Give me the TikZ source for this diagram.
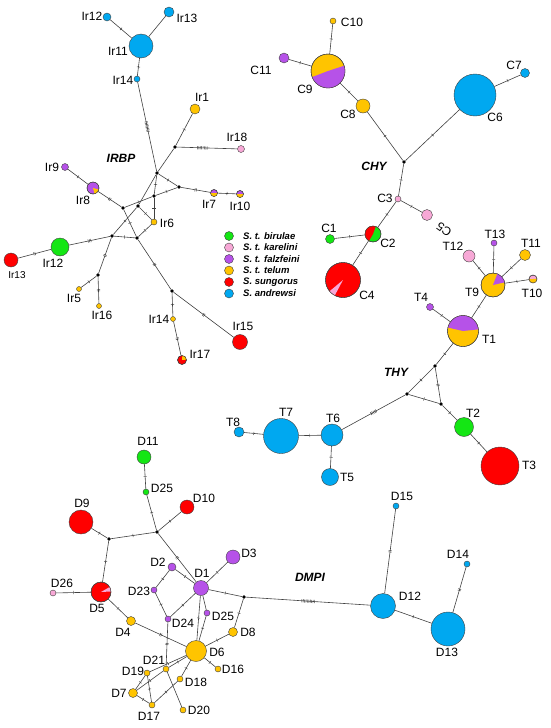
\documentclass[tikz,border=0pt]{standalone}
\usepackage{fontspec}
\setmainfont{Liberation Sans}
\usetikzlibrary{decorations.markings}
\definecolor{grn}{RGB}{20,230,20}
\definecolor{pnk}{RGB}{247,168,214}
\definecolor{pur}{RGB}{182,82,232}
\definecolor{yel}{RGB}{255,196,0}
\definecolor{rd}{RGB}{255,0,0}
\definecolor{blu}{RGB}{0,168,240}
\tikzset{
  hap/.style={circle,draw=black!75,line width=0.4pt,inner sep=0pt,minimum size=#1},
  jn/.style={circle,fill=black,inner sep=0pt,minimum size=3.6pt},
  lk/.style={draw=black!75,line width=0.6pt},
  lab/.style={inner sep=0pt,font=\fontsize{12}{14}\selectfont},
  gene/.style={inner sep=0pt,font=\bfseries\itshape\fontsize{12}{14}\selectfont},
  keytxt/.style={anchor=west,inner sep=0pt,font=\bfseries\itshape\fontsize{9.5}{11}\selectfont},
  mut/.style 2 args={postaction={decorate,decoration={markings,
    mark=at position #1 with {\foreach \k in {1,...,#2}
      \draw[black!75,line width=0.45pt] ({(\k-(#2+1)/2)*1.4pt},-1.6pt) -- ++(0pt,3.2pt);}}}},
  mt/.style={mut={0.5}{#1}}, mt/.default=1
}
\newcommand{\slice}[5]{\fill[#5] (#1.center) -- ++(#3:#2) arc[start angle=#3,end angle=#4,radius=#2] -- cycle;
  \draw[black!75,line width=0.4pt] (#1.center) circle[radius=#2];}
\begin{document}
\begin{tikzpicture}[x=1pt,y=-1pt]
\useasboundingbox (0,0) rectangle (550,728);

\node[hap=8,fill=blu] (Ir12t) at (107,17) {};
\node[hap=10,fill=blu] (Ir13t) at (169,12) {};
\node[hap=24,fill=blu] (Ir11) at (141,46) {};
\node[hap=6,fill=blu] (Ir14t) at (137,79) {};
\node[hap=10,fill=yel] (Ir1) at (195,109) {};
\node[hap=7,fill=pnk] (Ir18) at (241,149) {};
\node[jn] (j1) at (175,147) {};
\node[jn] (j2) at (157,173) {};
\node[hap=7,fill=pur] (Ir9) at (65,167) {};
\node[hap=12,fill=pur] (Ir8) at (93,188) {};
\node[jn] (j3) at (179,187) {};
\node[hap=7,fill=pur] (Ir7) at (214,193) {};
\node[hap=7,fill=pur] (Ir10) at (240,194) {};
\node[jn] (j4) at (154,196) {};
\node[jn] (j5) at (138,206) {};
\node[jn] (j6) at (123,208) {};
\node[hap=6,fill=yel] (Ir6) at (154,222) {};
\node[jn] (j7) at (112,236) {};
\node[jn] (j8) at (137,238) {};
\node[hap=18,fill=grn] (Ir12b) at (60,247) {};
\node[hap=14,fill=rd] (Ir13b) at (11,260) {};
\node[jn] (j9) at (98,275) {};
\node[hap=5,fill=yel] (Ir5) at (79,289) {};
\node[hap=5,fill=yel] (Ir16) at (99,306) {};
\node[jn] (j10) at (172,291) {};
\node[hap=5,fill=yel] (Ir14b) at (173,319) {};
\node[hap=9,fill=rd] (Ir17) at (182,360) {};
\node[hap=15,fill=rd] (Ir15) at (240,342) {};
\slice{Ir8}{6}{15}{75}{yel}
\slice{Ir7}{3.5}{0}{180}{yel}
\slice{Ir10}{3.5}{0}{180}{yel}
\slice{Ir17}{4.5}{-85}{-5}{yel}

\draw[lk,mt] (Ir11) -- (Ir12t);
\draw[lk] (Ir11) -- (Ir13t);
\draw[lk,mt] (Ir11) -- (Ir14t);
\draw[lk,mt=8] (Ir14t) -- (j2);
\draw[lk] (j2) -- (j1);
\draw[lk,mt] (j1) -- (Ir1);
\draw[lk,mut={0.42}{8}] (j1) -- (Ir18);
\draw[lk,mt] (j2) -- (j3);
\draw[lk,mt=2] (j3) -- (Ir7);
\draw[lk,mt] (Ir7) -- (Ir10);
\draw[lk,mt] (j2) -- (j4);
\draw[lk,mt] (j4) -- (Ir6);
\draw[lk,mt] (j4) -- (j3);
\draw[lk,mt] (j6) -- (j4);
\draw[lk] (j2) -- (j5);
\draw[lk,mt] (j5) -- (Ir6);
\draw[lk,mt] (j5) -- (j7);
\draw[lk,mt] (j6) -- (j8);
\draw[lk,mt] (j7) -- (j8);
\draw[lk,mt] (j8) -- (Ir6);
\draw[lk,mt=2] (Ir8) -- (j6);
\draw[lk,mt] (Ir9) -- (Ir8);
\draw[lk,mt=3] (Ir12b) -- (j7);
\draw[lk,mt=2] (Ir13b) -- (Ir12b);
\draw[lk,mt=2] (j7) -- (j9);
\draw[lk,mt] (j9) -- (Ir5);
\draw[lk,mt=2] (j9) -- (Ir16);
\draw[lk,mt=2] (j8) -- (j10);
\draw[lk,mt] (j10) -- (Ir14b);
\draw[lk,mt=2] (Ir14b) -- (Ir17);
\draw[lk,mt=2] (j10) -- (Ir15);

\node[lab] (lIr12t) at (92,16) {Ir12};
\node[lab] (lIr13t) at (187,18) {Ir13};
\node[lab] (lIr11) at (118,51) {Ir11};
\node[lab] (lIr14t) at (123,80) {Ir14};
\node[lab] (lIr1) at (202,97) {Ir1};
\node[lab] (lIr18) at (237,137) {Ir18};
\node[gene] (gIRBP) at (121,158) {IRBP};
\node[lab] (lIr9) at (52,167) {Ir9};
\node[lab] (lIr8) at (83,200) {Ir8};
\node[lab] (lIr7) at (209,204) {Ir7};
\node[lab] (lIr10) at (240,206) {Ir10};
\node[lab] (lIr6) at (167,223) {Ir6};
\node[lab] (lIr12b) at (53,263) {Ir12};
\node[lab,font=\fontsize{10}{12}\selectfont] (lIr13b) at (17,275) {Ir13};
\node[lab] (lIr5) at (74,298) {Ir5};
\node[lab] (lIr16) at (102,315) {Ir16};
\node[lab] (lIr14b) at (159,319) {Ir14};
\node[lab] (lIr17) at (200,354) {Ir17};
\node[lab] (lIr15) at (243,326) {Ir15};

\node[hap=6,fill=yel] (C10) at (333,21) {};
\node[hap=10,fill=pur] (C11) at (284,58) {};
\node[hap=34,fill=yel] (C9) at (328,71) {};
\node[hap=14,fill=yel] (C8) at (363,106) {};
\node[jn] (jc) at (404,162) {};
\node[hap=42,fill=blu] (C6) at (475,95) {};
\node[hap=9,fill=blu] (C7) at (525,73) {};
\node[hap=6,fill=pnk] (C3) at (398,199) {};
\node[hap=11,fill=pnk] (C5) at (427,215) {};
\node[hap=16,fill=grn] (C2) at (373,234) {};
\node[hap=9,fill=grn] (C1) at (330,239) {};
\node[hap=35,fill=rd] (C4) at (343,280) {};
\slice{C9}{17}{-18}{159}{pur}
\slice{C2}{8}{120}{290}{rd}
\slice{C4}{17.5}{118}{140}{pnk}

\draw[lk,mt] (C10) -- (C9);
\draw[lk,mt] (C11) -- (C9);
\draw[lk,mt] (C9) -- (C8);
\draw[lk,mt] (C8) -- (jc);
\draw[lk,mt] (C6) -- (jc);
\draw[lk,mt] (C6) -- (C7);
\draw[lk,mt] (jc) -- (C3);
\draw[lk,mt] (C3) -- (C5);
\draw[lk,mt] (C3) -- (C2);
\draw[lk,mt] (C2) -- (C1);
\draw[lk,mt] (C2) -- (C4);

\node[lab] (lC10) at (352,22) {C10};
\node[lab] (lC11) at (261,70) {C11};
\node[lab] (lC9) at (305,89) {C9};
\node[lab] (lC8) at (348,114) {C8};
\node[gene] (gCHY) at (374,166) {CHY};
\node[lab] (lC6) at (495,117) {C6};
\node[lab] (lC7) at (514,65) {C7};
\node[lab] (lC3) at (385,198) {C3};
\node[lab,rotate=145] (lC5) at (444,229) {C5};
\node[lab] (lC2) at (388,243) {C2};
\node[lab] (lC1) at (329,228) {C1};
\node[lab] (lC4) at (367,295) {C4};

\node[hap=24,fill=yel] (T9) at (493,285) {};
\node[hap=12,fill=pnk] (T12) at (469,256) {};
\node[hap=6,fill=pur] (T13) at (494,243) {};
\node[hap=11,fill=yel] (T11) at (525,255) {};
\node[hap=8,fill=pnk] (T10) at (533,279) {};
\node[hap=7,fill=pur] (T4) at (430,307) {};
\node[hap=31,fill=yel] (T1) at (463,331) {};
\node[jn] (jt1) at (435,366) {};
\node[jn] (jt2) at (407,394) {};
\node[jn] (jt3) at (441,404) {};
\node[hap=19,fill=grn] (T2) at (464,427) {};
\node[hap=38,fill=rd] (T3) at (500,466) {};
\node[hap=22,fill=blu] (T6) at (332,435) {};
\node[hap=35,fill=blu] (T7) at (281,436) {};
\node[hap=10,fill=blu] (T8) at (239,432) {};
\node[hap=17,fill=blu] (T5) at (330,477) {};
\slice{T9}{12}{-69}{-13}{pur}
\slice{T10}{4}{-5}{175}{yel}
\slice{T1}{15.5}{-167}{-6}{pur}

\draw[lk,mt] (T12) -- (T9);
\draw[lk,mt] (T13) -- (T9);
\draw[lk,mt] (T11) -- (T9);
\draw[lk,mt] (T10) -- (T9);
\draw[lk,mt] (T9) -- (T1);
\draw[lk,mt] (T4) -- (T1);
\draw[lk,mt] (T1) -- (jt1);
\draw[lk,mt] (jt1) -- (jt2);
\draw[lk,mt=2] (jt1) -- (jt3);
\draw[lk,mt] (jt2) -- (jt3);
\draw[lk,mt] (jt3) -- (T2);
\draw[lk,mt] (T2) -- (T3);
\draw[lk,mt=5] (jt2) -- (T6);
\draw[lk,mt] (T6) -- (T7);
\draw[lk,mt] (T7) -- (T8);
\draw[lk,mt] (T6) -- (T5);

\node[lab] (lT9) at (472,292) {T9};
\node[lab] (lT12) at (453,246) {T12};
\node[lab] (lT13) at (495,234) {T13};
\node[lab] (lT11) at (531,243) {T11};
\node[lab] (lT10) at (532,293) {T10};
\node[lab] (lT4) at (421,297) {T4};
\node[lab] (lT1) at (489,339) {T1};
\node[gene] (gTHY) at (396,372) {THY};
\node[lab] (lT2) at (473,413) {T2};
\node[lab] (lT3) at (529,465) {T3};
\node[lab] (lT6) at (333,418) {T6};
\node[lab] (lT7) at (286,412) {T7};
\node[lab] (lT8) at (233,422) {T8};
\node[lab] (lT5) at (347,477) {T5};

\node[hap=14,fill=grn] (D11) at (144,457) {};
\node[hap=6,fill=grn] (D25g) at (146,492) {};
\node[hap=14,fill=rd] (D10) at (187,507) {};
\node[hap=24,fill=rd] (D9) at (81,522) {};
\node[jn] (jd1) at (157,532) {};
\node[jn] (jd2) at (109,539) {};
\node[hap=20,fill=rd] (D5) at (101,592) {};
\node[hap=6,fill=pnk] (D26) at (53,593) {};
\node[hap=8,fill=pur] (D2) at (172,567) {};
\node[hap=14,fill=pur] (D3) at (233,557) {};
\node[hap=15,fill=pur] (D1) at (201,588) {};
\node[hap=6,fill=pur] (D23) at (154,590) {};
\node[hap=6,fill=pur] (D24) at (168,619) {};
\node[hap=6,fill=pur] (D25p) at (207,613) {};
\node[jn] (jd3) at (244,597) {};
\node[hap=9,fill=yel] (D8) at (233,632) {};
\node[hap=9,fill=yel] (D4) at (131,621) {};
\node[hap=21,fill=yel] (D6) at (196,651) {};
\node[hap=6,fill=yel] (D16) at (218,669) {};
\node[hap=6,fill=yel] (D21) at (166,669) {};
\node[hap=6,fill=yel] (D19) at (147,673) {};
\node[hap=6,fill=yel] (D18) at (180,679) {};
\node[hap=9,fill=yel] (D7) at (133,693) {};
\node[hap=6,fill=yel] (D17) at (152,705) {};
\node[hap=6,fill=yel] (D20) at (183,710) {};
\node[hap=6,fill=blu] (D15) at (396,506) {};
\node[hap=6,fill=blu] (D14) at (467,564) {};
\node[hap=25,fill=blu] (D12) at (383,606) {};
\node[hap=34,fill=blu] (D13) at (448,629) {};
\slice{D5}{10}{-30}{-3}{pnk}

\draw[lk,mt] (D11) -- (D25g);
\draw[lk,mt] (D25g) -- (jd1);
\draw[lk,mt] (jd1) -- (D10);
\draw[lk,mt] (jd1) -- (jd2);
\draw[lk,mt] (jd2) -- (D9);
\draw[lk,mt] (jd2) -- (D5);
\draw[lk,mt] (D5) -- (D26);
\draw[lk,mt] (D5) -- (D4);
\draw[lk,mt=2] (D4) -- (D6);
\draw[lk,mt=2] (jd1) -- (D1);
\draw[lk,mt] (D2) -- (D1);
\draw[lk,mt] (D2) -- (D23);
\draw[lk,mt] (D23) -- (D24);
\draw[lk,mt] (D24) -- (D1);
\draw[lk,mt] (D1) -- (D3);
\draw[lk,mt] (D1) -- (jd3);
\draw[lk,mt=10] (jd3) -- (D12);
\draw[lk,mt] (jd3) -- (D8);
\draw[lk,mt] (D8) -- (D6);
\draw[lk] (D1) -- (D25p);
\draw[lk,mt] (D25p) -- (D6);
\draw[lk,mt] (D1) -- (D6);
\draw[lk,mt=2] (D24) -- (D21);
\draw[lk,mt] (D21) -- (D6);
\draw[lk,mt] (D19) -- (D6);
\draw[lk,mt] (D7) -- (D21);
\draw[lk,mt] (D7) -- (D19);
\draw[lk,mt] (D19) -- (D17);
\draw[lk,mt] (D7) -- (D17);
\draw[lk,mt] (D17) -- (D18);
\draw[lk,mt] (D18) -- (D6);
\draw[lk] (D21) -- (D20);
\draw[lk,mt] (D6) -- (D16);
\draw[lk,mt=2] (D12) -- (D15);
\draw[lk,mt] (D12) -- (D13);
\draw[lk,mt=2] (D13) -- (D14);

\node[lab] (lD11) at (148,441) {D11};
\node[lab] (lD25g) at (162,488) {D25};
\node[lab] (lD10) at (204,498) {D10};
\node[lab] (lD9) at (82,503) {D9};
\node[lab] (lD5) at (97,608) {D5};
\node[lab] (lD26) at (62,583) {D26};
\node[lab] (lD2) at (158,562) {D2};
\node[lab] (lD3) at (249,553) {D3};
\node[lab] (lD1) at (202,573) {D1};
\node[lab] (lD23) at (139,591) {D23};
\node[lab] (lD24) at (183,623) {D24};
\node[lab] (lD25p) at (223,616) {D25};
\node[lab] (lD8) at (248,632) {D8};
\node[lab] (lD4) at (123,632) {D4};
\node[lab] (lD6) at (217,652) {D6};
\node[lab] (lD16) at (233,669) {D16};
\node[lab] (lD21) at (154,660) {D21};
\node[lab] (lD19) at (133,671) {D19};
\node[lab] (lD18) at (196,682) {D18};
\node[lab] (lD7) at (119,693) {D7};
\node[lab] (lD17) at (149,716) {D17};
\node[lab] (lD20) at (199,710) {D20};
\node[lab] (lD15) at (402,496) {D15};
\node[lab] (lD14) at (458,554) {D14};
\node[lab] (lD12) at (410,596) {D12};
\node[lab] (lD13) at (447,652) {D13};
\node[gene] (gDMPI) at (310,577) {DMPI};

\node[hap=9,fill=grn] (k1) at (229,236) {};
\node[hap=9,fill=pnk] (k2) at (229,247.5) {};
\node[hap=9,fill=pur] (k3) at (229,259) {};
\node[hap=9,fill=yel] (k4) at (229,270.5) {};
\node[hap=9,fill=rd] (k5) at (229,282) {};
\node[hap=9,fill=blu] (k6) at (229,293.5) {};
\node[keytxt] (t1) at (243,236) {S. t. birulae};
\node[keytxt] (t2) at (243,247.5) {S. t. karelini};
\node[keytxt] (t3) at (243,259) {S. t. falzfeini};
\node[keytxt] (t4) at (243,270.5) {S. t. telum};
\node[keytxt] (t5) at (243,282) {S. sungorus};
\node[keytxt] (t6) at (243,293.5) {S. andrewsi};
\end{tikzpicture}
\end{document}
